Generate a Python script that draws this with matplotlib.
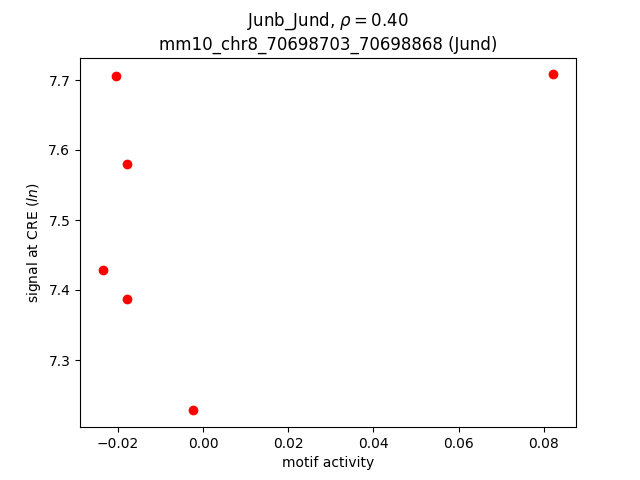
import matplotlib
matplotlib.use('Agg')
import matplotlib.pyplot as plt

motif_activity = [-0.0205, 0.0823, -0.0179, -0.0236, -0.0179, -0.0024]
signal = [7.706, 7.708, 7.580, 7.428, 7.387, 7.228]

fig, ax = plt.subplots(figsize=(6.4, 4.8), dpi=100)
ax.scatter(motif_activity, signal, color='red')
ax.set_xlabel('motif activity')
ax.set_ylabel('signal at CRE ($ln$)')
ax.set_title('Junb_Jund, $\\rho = 0.40$\nmm10_chr8_70698703_70698868 (Jund)')
plt.savefig('out.png')
